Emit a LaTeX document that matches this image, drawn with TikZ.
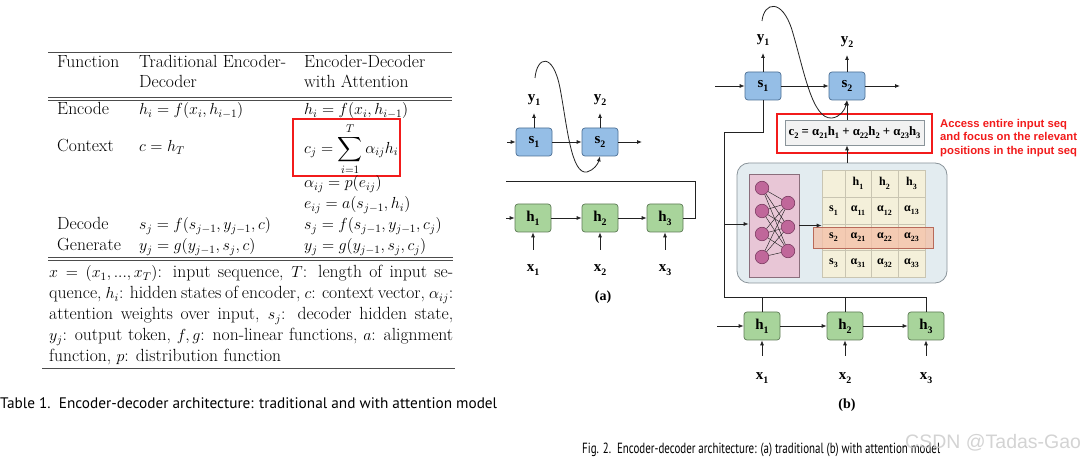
\RequirePackage{fix-cm}
\documentclass[tikz,border=0pt]{standalone}
\usepackage{amsmath}
\usepackage{fontspec}
\usepackage{graphicx}
\usetikzlibrary{arrows.meta,calc}
\newfontfamily\dgf{Liberation Serif}
\newfontfamily\capf{PT Sans}
\newfontfamily\sansf{Liberation Sans}
\definecolor{sfill}{HTML}{95BEE6}
\definecolor{sdraw}{HTML}{4C6F94}
\definecolor{hfill}{HTML}{A8D49B}
\definecolor{hdraw}{HTML}{5E7B56}
\definecolor{linec}{HTML}{222222}
\definecolor{attfill}{HTML}{E3ECF0}
\definecolor{attdraw}{HTML}{8A949A}
\definecolor{nnfill}{HTML}{E8C6D6}
\definecolor{nndraw}{HTML}{8A6E7C}
\definecolor{neuf}{HTML}{C0679A}
\definecolor{neud}{HTML}{7A3A60}
\definecolor{gridf}{HTML}{F4F0DA}
\definecolor{gridl}{HTML}{C9C5B2}
\definecolor{hlf}{HTML}{F4BFA6}
\definecolor{hld}{HTML}{B86A5A}
\definecolor{cfill}{HTML}{F2F2F2}
\definecolor{redc}{HTML}{F21B1B}
\newcommand\lab{\dgf\bfseries\fontsize{15}{15}\selectfont}
\newcommand\cellf{\dgf\bfseries\fontsize{12}{12}\selectfont}
\newcommand\tabf{\fontsize{17.6}{20}\selectfont}
\newcommand\mth[1]{{\fontsize{16}{20}\selectfont$#1$}}
\newcommand\sbs[1]{\raisebox{-0.28em}{\scalebox{0.66}{#1}}}
\tikzset{
  sbox/.style={draw=sdraw, fill=sfill, rounded corners=3pt, minimum width=36pt, minimum height=28pt, inner sep=0pt, line width=0.7pt, font=\lab},
  hbox/.style={draw=hdraw, fill=hfill, rounded corners=3pt, minimum width=36pt, minimum height=28pt, inner sep=0pt, line width=0.7pt, font=\lab},
  lbl/.style={inner sep=0pt, font=\lab},
  arr/.style={draw=linec, line width=0.8pt, -{Latex[length=5pt,width=4pt]}},
  ln/.style={draw=linec, line width=0.8pt},
  tx/.style={anchor=base west, inner sep=0pt, font=\tabf},
  tabrule/.style={line width=0.8pt, draw=black!70},
  cell/.style={inner sep=0pt, font=\cellf},
  neuron/.style={circle, draw=neud, fill=neuf, minimum size=13.5pt, inner sep=0pt, line width=0.6pt},
}
\begin{document}
\begin{tikzpicture}[x=1pt,y=-1pt]
\useasboundingbox (0,0) rectangle (1080,462);
\fill[white] (0,0) rectangle (1080,462);

% ================= TABLE =================
\draw[tabrule] (48,52) -- (452,52);
\node[tx] (th1) at (57,68) {Function};
\node[tx] (th2) at (139,68) {Traditional Encoder-};
\node[tx] (th3) at (304,68) {Encoder-Decoder};
\node[tx] (th2b) at (139,88) {Decoder};
\node[tx] (th3b) at (304,88) {with Attention};
\draw[tabrule] (48,97) -- (452,97);
\draw[tabrule] (48,100) -- (452,100);
\node[tx] (r1a) at (57,115) {Encode};
\node[tx] (r1b) at (139,115) {\mth{h_i = f(x_i, h_{i-1})}};
\node[tx] (r1c) at (304,115) {\mth{h_i = f(x_i, h_{i-1})}};
\node[tx] (r2a) at (57,152) {Context};
\node[tx] (r2b) at (139,152) {\mth{c = h_T}};
\node[tx] (r2c) at (304,153.5) {\mth{\displaystyle c_j = \sum_{i=1}^{T}\alpha_{ij}h_i}};
\draw[redc, line width=1.8pt] (293,119) rectangle (400,176);
\node[tx] (r3c) at (304,188) {\mth{\alpha_{ij} = p(e_{ij})}};
\node[tx] (r4c) at (304,209) {\mth{e_{ij} = a(s_{j-1}, h_i)}};
\node[tx] (r5a) at (57,230) {Decode};
\node[tx] (r5b) at (139,230) {\mth{s_j = f(s_{j-1}, y_{j-1}, c)}};
\node[tx] (r5c) at (304,230) {\mth{s_j = f(s_{j-1}, y_{j-1}, c_j)}};
\node[tx] (r6a) at (57,251) {Generate};
\node[tx] (r6b) at (139,251) {\mth{y_j = g(y_{j-1}, s_j, c)}};
\node[tx] (r6c) at (304,251) {\mth{y_j = g(y_{j-1}, s_j, c_j)}};
\draw[tabrule] (48,257) -- (453,257);
\draw[tabrule] (48,260.5) -- (453,260.5);
\node[tx] (n1) at (49,278) {\makebox[404pt][s]{\mth{x = (x_1, ..., x_T)}: input sequence, \mth{T}: length of input se-}};
\node[tx] (n2) at (49,299) {\makebox[404pt][s]{quence, \mth{h_i}: hidden states of encoder, \mth{c}: context vector, \mth{\alpha_{ij}}:}};
\node[tx] (n3) at (49,320) {\makebox[404pt][s]{attention weights over input, \mth{s_j}: decoder hidden state,}};
\node[tx] (n4) at (49,341) {\makebox[404pt][s]{\mth{y_j}: output token, \mth{f, g}: non-linear functions, \mth{a}: alignment}};
\node[tx] (n5) at (49,362) {function, \mth{p}: distribution function};
\draw[tabrule] (42,368) -- (455,368);
\node[anchor=west, inner sep=0pt] (tcap) at (0,403) {\resizebox{497pt}{!}{\capf\fontsize{13}{13}\selectfont Table 1.\ \ Encoder-decoder architecture: traditional and with attention model}};

% ================= (a) =================
\node[sbox] (s1a) at (534,142) {s\sbs{1}};
\node[sbox] (s2a) at (600,142) {s\sbs{2}};
\node[lbl] (y1a) at (534,100) {y\sbs{1}};
\node[lbl] (y2a) at (600,100) {y\sbs{2}};
\node[hbox] (h1a) at (533,218) {h\sbs{1}};
\node[hbox] (h2a) at (600,218) {h\sbs{2}};
\node[hbox] (h3a) at (665,218) {h\sbs{3}};
\node[lbl] (x1a) at (533,270) {x\sbs{1}};
\node[lbl] (x2a) at (600,270) {x\sbs{2}};
\node[lbl] (x3a) at (665,270) {x\sbs{3}};
\node[lbl, font=\dgf\bfseries\fontsize{14}{14}\selectfont] (cpa) at (603,297) {(a)};
\coordinate (ya1) at (534,113);
\coordinate (ya2) at (600,113);
\coordinate (ina) at (507,142);
\coordinate (outa) at (642,142);
\coordinate (inh) at (506,218);
\coordinate (xa1) at (533,250);
\coordinate (xa2) at (600,250);
\coordinate (xa3) at (665,250);
\coordinate (ta1) at (695,181);
\coordinate (ta2) at (506,181);
\coordinate (cva) at (535,78);
\draw[arr] (s1a.north) -- (ya1);
\draw[arr] (s2a.north) -- (ya2);
\draw[arr] (ina) -- (s1a);
\draw[arr] (s1a) -- (s2a);
\draw[arr] (s2a) -- (outa);
\draw[arr] (inh) -- (h1a);
\draw[arr] (h1a) -- (h2a);
\draw[arr] (h2a) -- (h3a);
\draw[arr] (xa1) -- (h1a.south);
\draw[arr] (xa2) -- (h2a.south);
\draw[arr] (xa3) -- (h3a.south);
\draw[ln] (h3a.east) -| (ta1) -- (ta2);
\draw[arr] (cva) .. controls (537,56) and (553,52) .. (560,88) .. controls (567,125) and (571,175) .. (587,172) .. controls (594,170) and (598,164) .. (s2a.south);

% ================= (b) =================
\node[draw=attdraw, fill=attfill, rounded corners=12pt, minimum width=210pt, minimum height=120pt, line width=0.8pt] (att) at (842,223) {};
\node[draw=nndraw, fill=nnfill, minimum width=50pt, minimum height=103pt, line width=0.7pt, inner sep=0pt] (nn) at (774,225.5) {};
\foreach \i/\ya in {1/188,2/211,3/234,4/257} \node[neuron] (nl\i) at (762,\ya) {};
\foreach \j/\yb in {1/203,2/227,3/251} \node[neuron] (nr\j) at (788,\yb) {};
\foreach \i in {1,2,3,4} \foreach \j in {1,2,3} \draw[linec, line width=0.45pt] (nl\i) -- (nr\j);
\node[fill=gridf, draw=gridl, minimum width=103pt, minimum height=107pt, inner sep=0pt, line width=0.6pt] (grid) at (873.5,223.5) {};
\foreach \xx in {845,871,898} \draw[gridl, line width=0.6pt] (\xx,170) -- (\xx,277);
\foreach \yy in {197,224,250} \draw[gridl, line width=0.6pt] (822,\yy) -- (925,\yy);
\fill[hlf, opacity=0.75] (813,227) rectangle (933,248);
\draw[hld, line width=0.6pt] (813,227) rectangle (933,248);
\node[cell] (g01) at (858,183.5) {h\sbs{1}};
\node[cell] (g02) at (884.5,183.5) {h\sbs{2}};
\node[cell] (g03) at (911.5,183.5) {h\sbs{3}};
\node[cell] (g10) at (833.5,210.5) {s\sbs{1}};
\node[cell] (g11) at (858,210.5) {α\sbs{11}};
\node[cell] (g12) at (884.5,210.5) {α\sbs{12}};
\node[cell] (g13) at (911.5,210.5) {α\sbs{13}};
\node[cell] (g20) at (833.5,237) {s\sbs{2}};
\node[cell] (g21) at (858,237) {α\sbs{21}};
\node[cell] (g22) at (884.5,237) {α\sbs{22}};
\node[cell] (g23) at (911.5,237) {α\sbs{23}};
\node[cell] (g30) at (833.5,263.5) {s\sbs{3}};
\node[cell] (g31) at (858,263.5) {α\sbs{31}};
\node[cell] (g32) at (884.5,263.5) {α\sbs{32}};
\node[cell] (g33) at (911.5,263.5) {α\sbs{33}};

\node[sbox] (s1b) at (763,86) {s\sbs{1}};
\node[sbox] (s2b) at (847,86) {s\sbs{2}};
\node[lbl] (y1b) at (763,40) {y\sbs{1}};
\node[lbl] (y2b) at (847,42) {y\sbs{2}};
\node[draw=redc, line width=1.8pt, minimum width=155pt, minimum height=39pt, inner sep=0pt] (redb) at (854.5,133.5) {};
\node[draw=attdraw, fill=cfill, minimum width=139pt, minimum height=25pt, inner sep=0pt, line width=0.7pt, font=\dgf\bfseries\fontsize{12.8}{12.8}\selectfont] (c2) at (854.5,132.5) {c\sbs{2} = α\sbs{21}h\sbs{1} + α\sbs{22}h\sbs{2} + α\sbs{23}h\sbs{3}};
\node[anchor=west, align=left, inner sep=0pt, text=redc, font=\sansf\bfseries\fontsize{11.3}{13.2}\selectfont] (note) at (940,138) {Access entire input seq\\and focus on the relevant\\positions in the input seq};
\node[hbox] (h1b) at (762,326) {h\sbs{1}};
\node[hbox] (h2b) at (845,326) {h\sbs{2}};
\node[hbox] (h3b) at (926,326) {h\sbs{3}};
\node[lbl] (x1b) at (762,378) {x\sbs{1}};
\node[lbl] (x2b) at (845,378) {x\sbs{2}};
\node[lbl] (x3b) at (926,378) {x\sbs{3}};
\node[lbl, font=\dgf\bfseries\fontsize{14}{14}\selectfont] (cpb) at (847,405) {(b)};
\coordinate (yb1) at (763,53);
\coordinate (yb2) at (847,55);
\coordinate (inb) at (715,86);
\coordinate (outb) at (900,86);
\coordinate (inhb) at (717,326);
\coordinate (xb1) at (762,356);
\coordinate (xb2) at (845,356);
\coordinate (xb3) at (926,356);
\coordinate (bl1) at (724,132);
\coordinate (bl2) at (724,297);
\coordinate (tap) at (724,224);
\coordinate (cvb) at (762,21);
\draw[arr] (s1b.north) -- (yb1);
\draw[arr] (s2b.north) -- (yb2);
\draw[arr] (inb) -- (s1b);
\draw[arr] (s1b) -- (s2b);
\draw[arr] (s2b) -- (outb);
\draw[arr] (inhb) -- (h1b);
\draw[arr] (h1b) -- (h2b);
\draw[arr] (h2b) -- (h3b);
\draw[arr] (xb1) -- (h1b.south);
\draw[arr] (xb2) -- (h2b.south);
\draw[arr] (xb3) -- (h3b.south);
\draw[ln] (s1b.south) |- (bl1) -- (bl2) -| (h3b.north);
\draw[ln] (h1b.north) -- (h1b.north |- bl2);
\draw[ln] (h2b.north) -- (h2b.north |- bl2);
\draw[arr] (tap) -- (tap -| nn.west);
\draw[arr] (nn.east) -- (nn.east -| grid.west);
\draw[arr] (att.north -| s2b) -- (c2.south -| s2b);
\draw[arr] (c2.north -| s2b) -- (s2b.south);
\draw[arr] (cvb) .. controls (764,2) and (782,-2) .. (792,30) .. controls (804,70) and (812,120) .. (832,118) .. controls (840,117) and (845,110) .. (s2b.south);

% ================= captions =================
\node[anchor=west, inner sep=0pt] (fcap) at (582,450) {\resizebox{358pt}{!}{\scalebox{1}[1.35]{\capf\fontsize{11}{11}\selectfont Fig. 2.\ \ Encoder-decoder architecture: (a) traditional (b) with attention model}}};
\node[anchor=west, inner sep=0pt, text=gray!40, text opacity=0.85, font=\sansf\fontsize{19.5}{19.5}\selectfont] (wm) at (905,443) {CSDN @Tadas-Gao};
\end{tikzpicture}
\end{document}
